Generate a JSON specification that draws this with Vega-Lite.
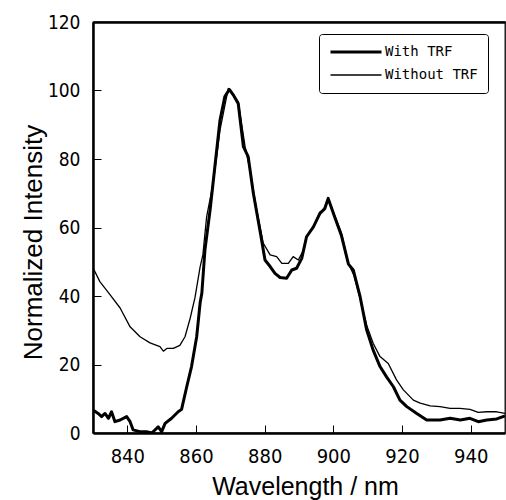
{
  "$schema": "https://vega.github.io/schema/vega-lite/v6.json",
  "autosize": {"type": "none"},
  "padding": {"left": 93, "top": 22, "right": 1, "bottom": 67},
  "width": 412,
  "height": 411,
  "background": "white",
  "config": {
    "view": {"stroke": "black", "strokeWidth": 1.3},
    "axis": {"domainColor": "black", "labelColor": "black", "titleColor": "black", "grid": false}
  },
  "datasets": {
    "spectra": [
      {"nm": 830, "intensity": 6.7, "series": "With TRF"},
      {"nm": 831.5, "intensity": 5.7, "series": "With TRF"},
      {"nm": 832.5, "intensity": 4.8, "series": "With TRF"},
      {"nm": 833.5, "intensity": 5.7, "series": "With TRF"},
      {"nm": 834.5, "intensity": 4.3, "series": "With TRF"},
      {"nm": 835.4, "intensity": 6.2, "series": "With TRF"},
      {"nm": 836.4, "intensity": 3.3, "series": "With TRF"},
      {"nm": 837.9, "intensity": 3.8, "series": "With TRF"},
      {"nm": 839.8, "intensity": 4.8, "series": "With TRF"},
      {"nm": 840.8, "intensity": 3.3, "series": "With TRF"},
      {"nm": 841.7, "intensity": 0.9, "series": "With TRF"},
      {"nm": 843.7, "intensity": 0.4, "series": "With TRF"},
      {"nm": 845.6, "intensity": 0.4, "series": "With TRF"},
      {"nm": 847.1, "intensity": 0, "series": "With TRF"},
      {"nm": 849, "intensity": 1.8, "series": "With TRF"},
      {"nm": 850, "intensity": 0.4, "series": "With TRF"},
      {"nm": 851, "intensity": 2.8, "series": "With TRF"},
      {"nm": 852.9, "intensity": 4.3, "series": "With TRF"},
      {"nm": 854.8, "intensity": 6.2, "series": "With TRF"},
      {"nm": 855.8, "intensity": 6.9, "series": "With TRF"},
      {"nm": 857.3, "intensity": 13.5, "series": "With TRF"},
      {"nm": 858.7, "intensity": 19.4, "series": "With TRF"},
      {"nm": 860.2, "intensity": 28.1, "series": "With TRF"},
      {"nm": 861.2, "intensity": 38, "series": "With TRF"},
      {"nm": 861.7, "intensity": 40.8, "series": "With TRF"},
      {"nm": 862.6, "intensity": 53.4, "series": "With TRF"},
      {"nm": 864.1, "intensity": 65.1, "series": "With TRF"},
      {"nm": 865.5, "intensity": 77.8, "series": "With TRF"},
      {"nm": 867, "intensity": 91.4, "series": "With TRF"},
      {"nm": 868.4, "intensity": 98.2, "series": "With TRF"},
      {"nm": 869.7, "intensity": 100.3, "series": "With TRF"},
      {"nm": 871, "intensity": 98.5, "series": "With TRF"},
      {"nm": 872.3, "intensity": 96.2, "series": "With TRF"},
      {"nm": 873.8, "intensity": 83.6, "series": "With TRF"},
      {"nm": 875.2, "intensity": 80.7, "series": "With TRF"},
      {"nm": 876.7, "intensity": 70.0, "series": "With TRF"},
      {"nm": 878.6, "intensity": 59.3, "series": "With TRF"},
      {"nm": 880.1, "intensity": 50.5, "series": "With TRF"},
      {"nm": 881.6, "intensity": 48.6, "series": "With TRF"},
      {"nm": 883, "intensity": 46.6, "series": "With TRF"},
      {"nm": 884.5, "intensity": 45.4, "series": "With TRF"},
      {"nm": 886.4, "intensity": 45.2, "series": "With TRF"},
      {"nm": 887.9, "intensity": 47.6, "series": "With TRF"},
      {"nm": 889.3, "intensity": 48.1, "series": "With TRF"},
      {"nm": 890.8, "intensity": 51.0, "series": "With TRF"},
      {"nm": 892.2, "intensity": 57.3, "series": "With TRF"},
      {"nm": 894.2, "intensity": 60.2, "series": "With TRF"},
      {"nm": 896.1, "intensity": 64.1, "series": "With TRF"},
      {"nm": 897.5, "intensity": 65.5, "series": "With TRF"},
      {"nm": 898.5, "intensity": 68.5, "series": "With TRF"},
      {"nm": 900.5, "intensity": 62.8, "series": "With TRF"},
      {"nm": 902.4, "intensity": 57.5, "series": "With TRF"},
      {"nm": 904.4, "intensity": 49.3, "series": "With TRF"},
      {"nm": 905.8, "intensity": 47.6, "series": "With TRF"},
      {"nm": 907.8, "intensity": 39.8, "series": "With TRF"},
      {"nm": 909.7, "intensity": 30.1, "series": "With TRF"},
      {"nm": 911.6, "intensity": 24.2, "series": "With TRF"},
      {"nm": 913.6, "intensity": 19.4, "series": "With TRF"},
      {"nm": 915.5, "intensity": 16.4, "series": "With TRF"},
      {"nm": 917.5, "intensity": 13.5, "series": "With TRF"},
      {"nm": 919.4, "intensity": 9.6, "series": "With TRF"},
      {"nm": 921.4, "intensity": 7.7, "series": "With TRF"},
      {"nm": 924.3, "intensity": 5.7, "series": "With TRF"},
      {"nm": 927.2, "intensity": 3.8, "series": "With TRF"},
      {"nm": 929.5, "intensity": 3.8, "series": "With TRF"},
      {"nm": 931.1, "intensity": 3.8, "series": "With TRF"},
      {"nm": 934, "intensity": 4.3, "series": "With TRF"},
      {"nm": 937, "intensity": 3.8, "series": "With TRF"},
      {"nm": 939.8, "intensity": 4.3, "series": "With TRF"},
      {"nm": 942.2, "intensity": 3.3, "series": "With TRF"},
      {"nm": 944.7, "intensity": 3.8, "series": "With TRF"},
      {"nm": 947.6, "intensity": 4.1, "series": "With TRF"},
      {"nm": 950, "intensity": 5.0, "series": "With TRF"},
      {"nm": 830, "intensity": 48.2, "series": "Without TRF"},
      {"nm": 832, "intensity": 44.2, "series": "Without TRF"},
      {"nm": 835, "intensity": 40.3, "series": "Without TRF"},
      {"nm": 837.9, "intensity": 36.5, "series": "Without TRF"},
      {"nm": 840.8, "intensity": 31.0, "series": "Without TRF"},
      {"nm": 843.7, "intensity": 28.1, "series": "Without TRF"},
      {"nm": 846.6, "intensity": 26.3, "series": "Without TRF"},
      {"nm": 849.5, "intensity": 25.2, "series": "Without TRF"},
      {"nm": 850.5, "intensity": 23.9, "series": "Without TRF"},
      {"nm": 851.5, "intensity": 24.7, "series": "Without TRF"},
      {"nm": 853.4, "intensity": 24.7, "series": "Without TRF"},
      {"nm": 855.3, "intensity": 25.6, "series": "Without TRF"},
      {"nm": 856.8, "intensity": 28.1, "series": "Without TRF"},
      {"nm": 858.3, "intensity": 33.5, "series": "Without TRF"},
      {"nm": 859.7, "intensity": 39.5, "series": "Without TRF"},
      {"nm": 861.2, "intensity": 48.5, "series": "Without TRF"},
      {"nm": 862, "intensity": 52, "series": "Without TRF"},
      {"nm": 863.1, "intensity": 63.2, "series": "Without TRF"},
      {"nm": 865, "intensity": 72.9, "series": "Without TRF"},
      {"nm": 867, "intensity": 88.5, "series": "Without TRF"},
      {"nm": 869.4, "intensity": 100.6, "series": "Without TRF"},
      {"nm": 872.3, "intensity": 96.7, "series": "Without TRF"},
      {"nm": 874.3, "intensity": 83.6, "series": "Without TRF"},
      {"nm": 875.7, "intensity": 76.8, "series": "Without TRF"},
      {"nm": 877.7, "intensity": 65.1, "series": "Without TRF"},
      {"nm": 879.6, "intensity": 55.4, "series": "Without TRF"},
      {"nm": 881.6, "intensity": 52, "series": "Without TRF"},
      {"nm": 883.5, "intensity": 51.5, "series": "Without TRF"},
      {"nm": 885, "intensity": 49.5, "series": "Without TRF"},
      {"nm": 886.9, "intensity": 49.5, "series": "Without TRF"},
      {"nm": 888.3, "intensity": 51.5, "series": "Without TRF"},
      {"nm": 889.8, "intensity": 50.5, "series": "Without TRF"},
      {"nm": 891.3, "intensity": 53.4, "series": "Without TRF"},
      {"nm": 892.2, "intensity": 57.3, "series": "Without TRF"},
      {"nm": 894.2, "intensity": 60.2, "series": "Without TRF"},
      {"nm": 896.1, "intensity": 64.6, "series": "Without TRF"},
      {"nm": 897.1, "intensity": 65.1, "series": "Without TRF"},
      {"nm": 898.5, "intensity": 68.5, "series": "Without TRF"},
      {"nm": 900.5, "intensity": 63.2, "series": "Without TRF"},
      {"nm": 902.4, "intensity": 58.3, "series": "Without TRF"},
      {"nm": 904.4, "intensity": 49.5, "series": "Without TRF"},
      {"nm": 906, "intensity": 46, "series": "Without TRF"},
      {"nm": 908, "intensity": 38.5, "series": "Without TRF"},
      {"nm": 909.7, "intensity": 31.5, "series": "Without TRF"},
      {"nm": 911.6, "intensity": 26.2, "series": "Without TRF"},
      {"nm": 913.6, "intensity": 22.3, "series": "Without TRF"},
      {"nm": 916, "intensity": 20.3, "series": "Without TRF"},
      {"nm": 918.4, "intensity": 15.5, "series": "Without TRF"},
      {"nm": 920.4, "intensity": 12.6, "series": "Without TRF"},
      {"nm": 923.3, "intensity": 9.6, "series": "Without TRF"},
      {"nm": 925.3, "intensity": 8.7, "series": "Without TRF"},
      {"nm": 928.2, "intensity": 7.9, "series": "Without TRF"},
      {"nm": 931.1, "intensity": 7.7, "series": "Without TRF"},
      {"nm": 934, "intensity": 7.2, "series": "Without TRF"},
      {"nm": 936.9, "intensity": 7.2, "series": "Without TRF"},
      {"nm": 939.8, "intensity": 6.9, "series": "Without TRF"},
      {"nm": 942.2, "intensity": 6.0, "series": "Without TRF"},
      {"nm": 944.7, "intensity": 6.2, "series": "Without TRF"},
      {"nm": 947.6, "intensity": 6.2, "series": "Without TRF"},
      {"nm": 950, "intensity": 5.7, "series": "Without TRF"}
    ]
  },
  "data": {"name": "spectra"},
  "resolve": {"axis": {"x": "independent"}},
  "layer": [
    {
      "mark": {"type": "line", "color": "black", "clip": true, "strokeJoin": "round"},
      "encoding": {
        "x": {
          "field": "nm", "type": "quantitative",
          "scale": {"domain": [830, 950], "nice": false, "zero": false},
          "axis": {
            "title": "Wavelength / nm",
            "values": [840, 860, 880, 900, 920, 940],
            "domainWidth": 2.5,
            "tickColor": "black", "tickSize": -8, "tickWidth": 1,
            "labelPadding": 21,
            "labelFont": "Liberation Sans Narrow, Arial Narrow, DejaVu Sans Condensed, sans-serif",
            "labelFontSize": 20,
            "titleFont": "Liberation Sans, Arial, sans-serif",
            "titleFontSize": 25, "titleFontWeight": "normal",
            "titleX": 212, "titleY": 61, "titleBaseline": "alphabetic", "titleAlign": "center"
          }
        },
        "y": {
          "field": "intensity", "type": "quantitative",
          "scale": {"domain": [0, 120], "nice": false},
          "axis": {
            "title": "Normalized Intensity",
            "values": [0, 20, 40, 60, 80, 100, 120],
            "domainWidth": 2.5,
            "tickColor": "black", "tickSize": -8, "tickWidth": 1,
            "labelPadding": 21,
            "labelFont": "Liberation Sans Narrow, Arial Narrow, DejaVu Sans Condensed, sans-serif",
            "labelFontSize": 19,
            "titleFont": "Liberation Sans, Arial, sans-serif",
            "titleFontSize": 26, "titleFontWeight": "normal",
            "titleX": -52, "titleY": 220, "titleBaseline": "alphabetic", "titleAlign": "center", "titleAngle": -90
          }
        },
        "strokeWidth": {
          "field": "series", "type": "nominal",
          "scale": {"type": "ordinal", "domain": ["With TRF", "Without TRF"], "range": [3, 1.3]},
          "legend": {
            "title": null,
            "orient": "none", "legendX": 226, "legendY": 12,
            "symbolType": "stroke", "symbolSize": 2601, "symbolStrokeColor": "black",
            "labelFont": "DejaVu Sans Mono, monospace", "labelFontSize": 14, "labelColor": "black",
            "labelOffset": 2,
            "clipHeight": 16,
            "padding": 10, "rowPadding": 7,
            "strokeColor": "black", "fillColor": "white", "cornerRadius": 3
          }
        },
        "detail": {"field": "series"}
      }
    },
    {
      "mark": {"type": "rule", "opacity": 0},
      "encoding": {
        "x": {
          "field": "nm", "type": "quantitative", "aggregate": "min",
          "axis": {"orient": "top", "labels": false, "ticks": false, "title": null, "domainWidth": 2.5}
        }
      }
    }
  ]
}
